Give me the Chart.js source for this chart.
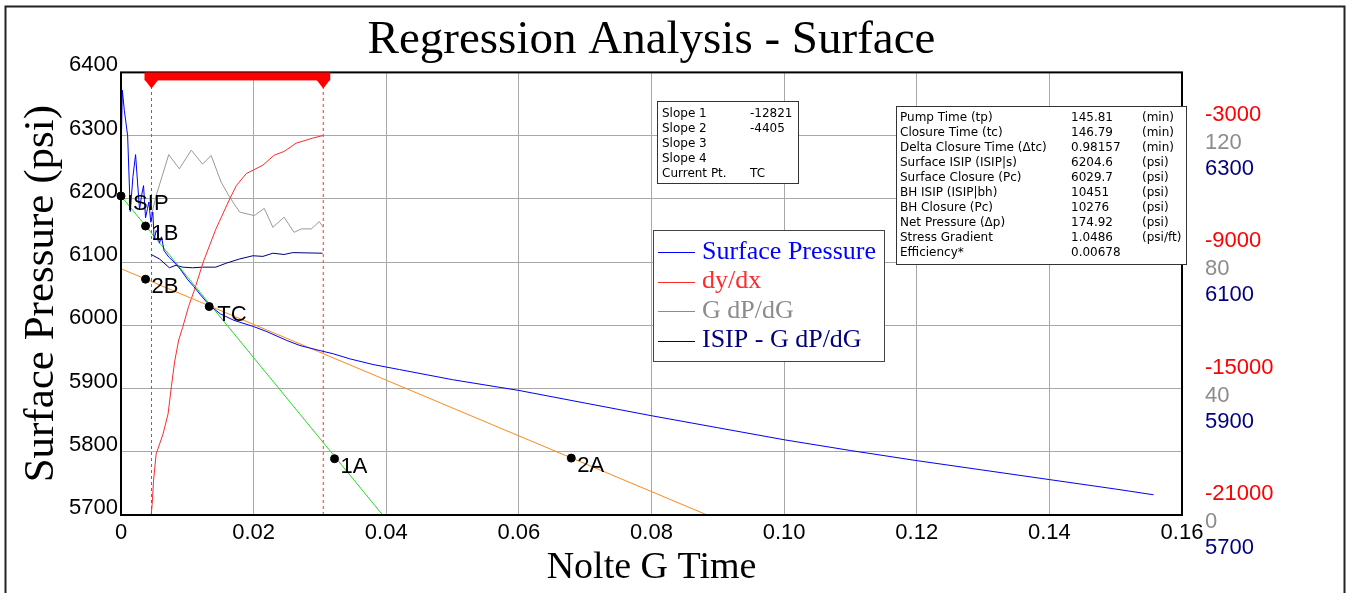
<!DOCTYPE html>
<html><head><meta charset="utf-8">
<script src="https://cdn.jsdelivr.net/npm/chart.js@4.4.1/dist/chart.umd.min.js"></script>
<style>html,body{margin:0;padding:0;background:#fff;overflow:hidden}canvas{display:block}</style>
</head><body>
<canvas id="c" width="1348" height="593"></canvas>
<script>
// ---------- text ----------
const chartTitle = 'Regression Analysis - Surface';
const xTitle = 'Nolte G Time';
const yTitle = 'Surface Pressure (psi)';
const xTickLabels = ['0','0.02','0.04','0.06','0.08','0.10','0.12','0.14','0.16'];

// ---------- Surface Pressure (psi vs G) ----------
const spG =   [0, 0.0002, 0.0005, 0.0010, 0.0014, 0.0018, 0.0022, 0.0025, 0.0028, 0.0031, 0.0034, 0.0037, 0.0040, 0.0042, 0.0045, 0.0048, 0.0050, 0.0053, 0.0055, 0.0058, 0.0061, 0.0065, 0.0072, 0.0080, 0.0090, 0.0100, 0.0110, 0.0120, 0.0133, 0.0150, 0.0170, 0.0200, 0.0220, 0.0250, 0.0270, 0.0300, 0.0320, 0.0345, 0.0380, 0.0420, 0.0500, 0.0600, 0.0700, 0.0800, 0.0900, 0.1000, 0.1100, 0.1200, 0.1300, 0.1400, 0.1500, 0.1557];
const spPsi = [6260, 6372, 6340, 6300, 6180, 6235, 6270, 6225, 6183, 6205, 6221, 6170, 6185, 6195, 6163, 6179, 6135, 6150, 6146, 6130, 6140, 6118, 6108, 6100, 6088, 6073, 6061, 6048, 6032, 6018, 6008, 5998, 5990, 5976, 5968, 5960, 5955, 5947, 5938, 5930, 5914, 5897, 5877, 5857, 5838, 5819, 5802, 5786, 5771, 5756, 5741, 5732];

// ---------- dy/dx ----------
const dydxG =   [0.00455, 0.0047, 0.0049, 0.0053, 0.0063, 0.0071, 0.0076, 0.0081, 0.0087, 0.0093, 0.0102, 0.0111, 0.0124, 0.0143, 0.0164, 0.0174, 0.0189, 0.0214, 0.0231, 0.0246, 0.0264, 0.0289, 0.0304];
const dydxVal = [-21000, -20500, -19400, -18100, -17200, -16200, -14900, -13700, -12700, -12100, -11100, -10300, -9000, -7440, -6000, -5370, -4800, -4400, -3930, -3750, -3360, -3120, -3000];

// ---------- G dP/dG ----------
const gdpG =   [0.00455, 0.0053, 0.0072, 0.0088, 0.0106, 0.0123, 0.0136, 0.0151, 0.0164, 0.0179, 0.0201, 0.0216, 0.0229, 0.0246, 0.0261, 0.0272, 0.0287, 0.0299, 0.0305];
const gdpVal = [94.5, 101, 114, 109.5, 115.4, 111, 113.7, 105.3, 100.5, 95.8, 94.7, 97, 91, 94.2, 89.4, 90.5, 90.5, 92.8, 91];

// ---------- ISIP - G dP/dG ----------
const isipG =   [0.00455, 0.0058, 0.0073, 0.0083, 0.0093, 0.0108, 0.0123, 0.0143, 0.0158, 0.0179, 0.0199, 0.0214, 0.0229, 0.0246, 0.0259, 0.0304];
const isipVal = [6112, 6105, 6091, 6095, 6092, 6091, 6092, 6092, 6098, 6105, 6110, 6109, 6114, 6112, 6115, 6114];

// ---------- regression lines ----------
const slope1G = [0, 0.03946];
const slope1P = [6204.6, 5700];
const slope2G = [0, 0.0884];
const slope2P = [6089.5, 5700];

// ---------- selection markers ----------
const selG = [0.0046, 0.0305];

// ---------- picked points ----------
const ptNames = ['ISIP', '1B', '2B', 'TC', '1A', '2A'];
const ptG =     [0, 0.0037, 0.0037, 0.0133, 0.0322, 0.0679];
const ptP =     [6204.6, 6157, 6073, 6029.7, 5789, 5790];

// ---------- right axis tick values ----------
const dydxTicks = [-21000, -15000, -9000, -3000];
const gdpTicks = [0, 40, 80, 120];
const isipTicks = [5700, 5900, 6100, 6300];

// ---------- info boxes ----------
const slopeRows = [['Slope 1','-12821'],['Slope 2','-4405'],['Slope 3',''],['Slope 4',''],['Current Pt.','TC']];
const infoRows = [
  ['Pump Time (tp)','145.81','(min)'],
  ['Closure Time (tc)','146.79','(min)'],
  ['Delta Closure Time (\u0394tc)','0.98157','(min)'],
  ['Surface ISIP (ISIP|s)','6204.6','(psi)'],
  ['Surface Closure (Pc)','6029.7','(psi)'],
  ['BH ISIP (ISIP|bh)','10451','(psi)'],
  ['BH Closure (Pc)','10276','(psi)'],
  ['Net Pressure (\u0394p)','174.92','(psi)'],
  ['Stress Gradient','1.0486','(psi/ft)'],
  ['Efficiency*','0.00678','']
];

const zip = (xs, ys) => xs.map((x, i) => ({x: x, y: ys[i]}));

const C_BLUE = '#0000ff', C_RED = '#ff2a2a', C_GRAY = '#8c8c8c', C_NAVY = '#00007a';

const lineDS = (label, xs, ys, color, axis, extra) => Object.assign({
  type: 'line', label: label, data: zip(xs, ys), yAxisID: axis,
  borderColor: color, backgroundColor: color, borderWidth: 1,
  pointRadius: 0, tension: 0, fill: false
}, extra || {});

const datasets = [
  { type: 'scatter', label: 'points', data: zip(ptG, ptP), yAxisID: 'y',
    pointRadius: 4, pointBackgroundColor: '#000', pointBorderColor: '#000', showLine: false, clip: false },
  lineDS('Surface Pressure', spG, spPsi, C_BLUE, 'y', {legendItem: true}),
  lineDS('slope1', slope1G, slope1P, '#22dd22', 'y'),
  lineDS('slope2', slope2G, slope2P, '#ff8a1a', 'y'),
  lineDS('dy/dx', dydxG, dydxVal, C_RED, 'yRed', {legendItem: true}),
  lineDS('G dP/dG', gdpG, gdpVal, '#9a9a9a', 'yGray', {legendItem: true, legendColor: C_GRAY}),
  lineDS('ISIP - G dP/dG', isipG, isipVal, C_NAVY, 'yNavy', {legendItem: true}),
  lineDS('sel1', [selG[0], selG[0]], [5700, 6400], '#ff3030', 'y', {borderDash: [3, 3]}),
  lineDS('sel2', [selG[1], selG[1]], [5700, 6400], '#ff3030', 'y', {borderDash: [3, 3]})
];

const overlay = {
  id: 'overlay',
  beforeDraw(chart) {
    const c = chart.ctx;
    c.save();
    c.fillStyle = '#fff';
    c.fillRect(0, 0, chart.width, chart.height);
    c.strokeStyle = '#222';
    c.lineWidth = 2;
    c.strokeRect(5.5, 6.5, 1339, 620);
    c.restore();
  },
  afterDatasetsDraw(chart) {
    const c = chart.ctx;
    const a = chart.chartArea;
    const xs = chart.scales.x;
    c.save();
    // plot border
    c.strokeStyle = '#000';
    c.lineWidth = 2;
    c.strokeRect(a.left, a.top, a.right - a.left, a.bottom - a.top);

    // selection bar
    const x1 = xs.getPixelForValue(selG[0]);
    const x2 = xs.getPixelForValue(selG[1]);
    c.fillStyle = '#ff0000';
    c.fillRect(x1 - 7, a.top, (x2 - x1) + 14, 8);
    [x1, x2].forEach(px => {
      c.beginPath();
      c.moveTo(px - 7, a.top + 7);
      c.lineTo(px + 7, a.top + 7);
      c.lineTo(px, a.top + 16);
      c.closePath();
      c.fill();
    });

    // point labels
    const meta = chart.getDatasetMeta(0);
    c.fillStyle = '#000';
    c.font = '22px "Liberation Sans", Arial, sans-serif';
    c.textBaseline = 'middle';
    c.textAlign = 'left';
    meta.data.forEach((el, i) => {
      const dx = ptNames[i] === 'TC' ? 8 : 6;
      c.fillText(ptNames[i], el.x + dx, el.y + 8);
    });

    // right axis labels
    const rx = 1205;
    const drawTicks = (scale, vals, color, off) => {
      c.fillStyle = color;
      vals.forEach(v => c.fillText(String(v), rx, scale.getPixelForValue(v) + off));
    };
    drawTicks(chart.scales.yRed, dydxTicks, '#ff0000', -21);
    drawTicks(chart.scales.yGray, gdpTicks, '#8c8c8c', 7);
    drawTicks(chart.scales.yNavy, isipTicks, '#000080', 33);

    // slope box
    c.font = '12px "DejaVu Sans", Verdana, sans-serif';
    c.fillStyle = '#fff';
    c.fillRect(657.5, 101.5, 141, 82);
    c.strokeStyle = '#333';
    c.lineWidth = 1;
    c.strokeRect(657.5, 101.5, 141, 82);
    c.fillStyle = '#000';
    slopeRows.forEach((r, i) => {
      const y = 114 + i * 15;
      c.fillText(r[0], 662, y);
      c.fillText(r[1], 750, y);
    });

    // info box
    c.fillStyle = '#fff';
    c.fillRect(896.5, 106.5, 290, 158);
    c.strokeStyle = '#333';
    c.strokeRect(896.5, 106.5, 290, 158);
    c.fillStyle = '#000';
    infoRows.forEach((r, i) => {
      const y = 118 + i * 15;
      c.fillText(r[0], 900, y);
      c.fillText(r[1], 1071, y);
      c.fillText(r[2], 1142, y);
    });

    // legend
    c.fillStyle = '#fff';
    c.fillRect(653.5, 230.5, 231, 131);
    c.strokeStyle = '#444';
    c.strokeRect(653.5, 230.5, 231, 131);
    c.font = '26px "Liberation Serif", "Times New Roman", serif';
    const items = chart.data.datasets.filter(d => d.legendItem);
    items.forEach((d, i) => {
      const y = 252 + i * 29.5;
      const col = d.legendColor || d.borderColor;
      c.strokeStyle = col;
      c.lineWidth = 1;
      c.beginPath();
      c.moveTo(658, Math.round(y) + 0.5);
      c.lineTo(695, Math.round(y) + 0.5);
      c.stroke();
      c.fillStyle = col;
      c.fillText(d.label, 702, y);
    });
    c.restore();
  }
};

new Chart(document.getElementById('c'), {
  data: { datasets: datasets },
  options: {
    responsive: false,
    animation: false,
    events: [],
    layout: { padding: 0 },
    plugins: {
      legend: { display: false },
      tooltip: { enabled: false },
      title: {
        display: true, text: chartTitle, color: '#000', fullSize: false,
        font: { family: '"Liberation Serif", "Times New Roman", serif', size: 47, weight: 'normal' },
        padding: { top: 12, bottom: 4 }
      }
    },
    scales: {
      x: {
        type: 'linear', position: 'bottom', min: 0, max: 0.16,
        afterFit(s) { s.height = 78; },
        ticks: {
          stepSize: 0.02, autoSkip: false, maxRotation: 0, padding: 5, color: '#000',
          font: { family: '"Liberation Sans", Arial, sans-serif', size: 22 },
          callback: (v, i) => xTickLabels[i]
        },
        grid: { color: '#a8a8a8', lineWidth: 1, drawTicks: false },
        border: { display: false },
        title: {
          display: true, text: xTitle, color: '#000',
          font: { family: '"Liberation Serif", "Times New Roman", serif', size: 38 },
          padding: { top: 0, bottom: 2 }
        }
      },
      y: {
        type: 'linear', position: 'left', min: 5700, max: 6400,
        afterFit(s) { s.width = 121; },
        ticks: {
          stepSize: 100, padding: 3, color: '#000', labelOffset: -7,
          font: { family: '"Liberation Sans", Arial, sans-serif', size: 22 },
          callback: v => String(v)
        },
        grid: { color: '#a8a8a8', lineWidth: 1, drawTicks: false },
        border: { display: false },
        title: {
          display: true, text: yTitle, color: '#000',
          font: { family: '"Liberation Serif", "Times New Roman", serif', size: 43 },
          padding: { top: 16, bottom: 0 }
        }
      },
      yRed: {
        type: 'linear', position: 'right', min: -21000, max: 0,
        afterFit(s) { s.width = 166; },
        ticks: { display: false },
        grid: { display: false },
        border: { display: false }
      },
      yGray: { type: 'linear', position: 'right', min: 0, max: 140, display: false },
      yNavy: { type: 'linear', position: 'right', min: 5700, max: 6400, display: false }
    }
  }
  ,
  plugins: [overlay]
});
</script>
</body></html>
